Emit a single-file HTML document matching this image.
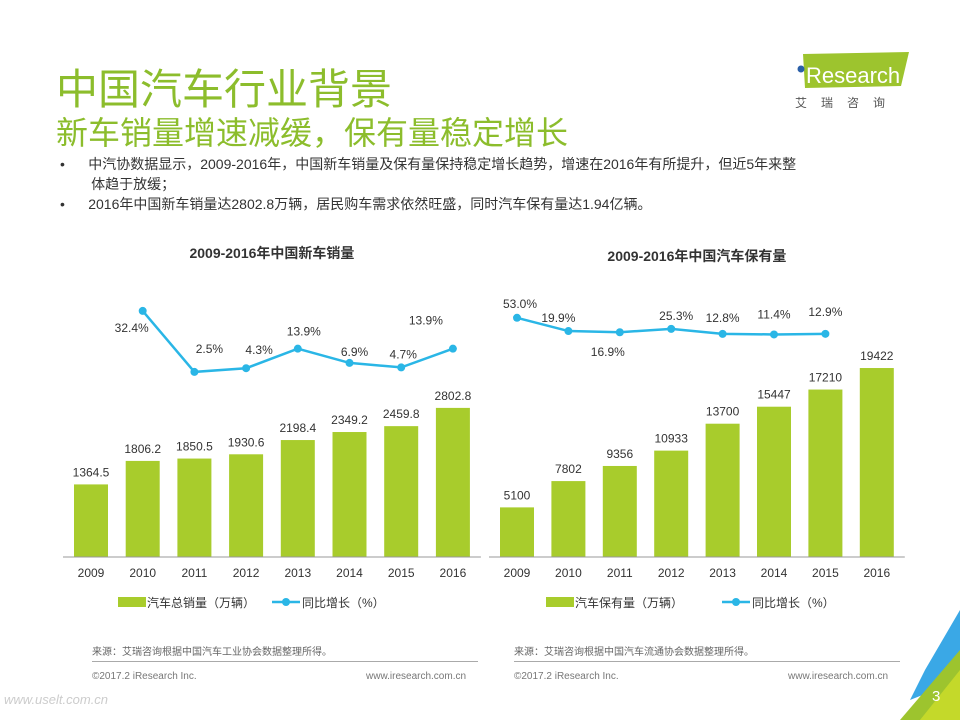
<!DOCTYPE html>
<html><head><meta charset="utf-8">
<style>
body{margin:0;width:960px;height:720px;overflow:hidden;background:#fff;font-family:"Liberation Sans","Noto Sans CJK SC",sans-serif;position:relative}
.abs{position:absolute;white-space:nowrap}
</style></head><body>
<div class="abs" style="left:56px;top:56px;font-size:42px;color:#8cbd2c;letter-spacing:0px">中国汽车行业背景</div>
<div class="abs" style="left:56px;top:108px;font-size:32px;color:#8cbd2c">新车销量增速减缓，保有量稳定增长</div>
<div class="abs" style="left:793px;top:52px;width:120px;height:56px">
<svg width="120" height="56"><polygon points="10,2 116,0 108,34 12,36" fill="#9dc42e"/><circle cx="8" cy="17" r="3.5" fill="#2a5fa8"/><rect x="6" y="22" width="3.5" height="10" fill="#fff"/><text x="13" y="31" font-size="22" fill="#fff" font-family="Liberation Sans">Research</text><text x="2" y="55" font-size="12" fill="#555" letter-spacing="14" font-family="Noto Sans CJK SC">艾瑞咨询</text></svg></div>
<div class="abs" style="left:60px;top:154px;font-size:14px;color:#333;line-height:20px">•&nbsp;&nbsp;&nbsp;&nbsp;&nbsp;&nbsp;中汽协数据显示，2009-2016年，中国新车销量及保有量保持稳定增长趋势，增速在2016年有所提升，但近5年来整<br>&nbsp;&nbsp;&nbsp;&nbsp;&nbsp;&nbsp;&nbsp;&nbsp;体趋于放缓；<br>•&nbsp;&nbsp;&nbsp;&nbsp;&nbsp;&nbsp;2016年中国新车销量达2802.8万辆，居民购车需求依然旺盛，同时汽车保有量达1.94亿辆。</div>
<svg id="chart" width="960" height="720" style="position:absolute;left:0;top:0"></svg>
<div class="abs" style="left:92px;top:643px;font-size:10px;color:#666">来源：艾瑞咨询根据中国汽车工业协会数据整理所得。</div>
<div class="abs" style="left:514px;top:643px;font-size:10px;color:#666">来源：艾瑞咨询根据中国汽车流通协会数据整理所得。</div>
<div class="abs" style="left:92px;top:661px;width:386px;border-top:1px solid #aaa"></div>
<div class="abs" style="left:514px;top:661px;width:386px;border-top:1px solid #aaa"></div>
<div class="abs" style="left:92px;top:671px;font-size:10px;color:#777">©2017.2 iResearch Inc.</div>
<div class="abs" style="left:366px;top:671px;font-size:10px;color:#777">www.iresearch.com.cn</div>
<div class="abs" style="left:514px;top:671px;font-size:10px;color:#777">©2017.2 iResearch Inc.</div>
<div class="abs" style="left:788px;top:671px;font-size:10px;color:#777">www.iresearch.com.cn</div>
<div class="abs" style="left:4px;top:692px;font-size:13px;color:#ccc;font-style:italic">www.uselt.com.cn</div>
<svg class="abs" style="left:880px;top:610px" width="80" height="110"><polygon points="80,0 80,70 30,90 45,60" fill="#3aa8e6"/><polygon points="80,40 80,110 20,110" fill="#9dc42e"/><polygon points="40,110 80,60 80,110" fill="#c4d92a"/></svg>
<div class="abs" style="left:932px;top:688px;font-size:15px;color:#fff">3</div>
<script>
const years=["2009","2010","2011","2012","2013","2014","2015","2016"];
const salesValues=[1364.5,1806.2,1850.5,1930.6,2198.4,2349.2,2459.8,2802.8];
const salesLabels=["1364.5","1806.2","1850.5","1930.6","2198.4","2349.2","2459.8","2802.8"];
const salesGrowth=[null,32.4,2.5,4.3,13.9,6.9,4.7,13.9];
const salesGrowthLabels=["","32.4%","2.5%","4.3%","13.9%","6.9%","4.7%","13.9%"];
const stockValues=[5100,7802,9356,10933,13700,15447,17210,19422];
const stockLabels=["5100","7802","9356","10933","13700","15447","17210","19422"];
const stockGrowth2=[53.0,19.9,16.9,25.3,12.8,11.4,12.9,null];
const stockGrowthLabels=["53.0%","19.9%","16.9%","25.3%","12.8%","11.4%","12.9%",""];
const svg=document.getElementById('chart');const NS='http://www.w3.org/2000/svg';
function mk(t,a){const e=document.createElementNS(NS,t);for(const k in a)e.setAttribute(k,a[k]);svg.appendChild(e);return e;}
function txt(x,y,s,size,anchor,w){const e=mk('text',{x:x,y:y,'font-size':size,'text-anchor':anchor||'middle',fill:'#333','font-weight':w||'normal'});e.textContent=s;return e;}
function chart(o){
  const base=557;
  const xs=i=>o.x0+i*o.step;
  const yb=v=>base-v*o.barScale;
  const yl=v=>o.lineA-v*o.lineB;
  const t=txt((o.x0+xs(7))/2,o.titleY,o.title,14,'middle','bold');
  
  
  o.bars.forEach((v,i)=>{
    const r=mk('rect',{x:xs(i)-17,y:yb(v),width:34,height:v*o.barScale,fill:'#a8cc2c'});
    
    
    const l=txt(xs(i),yb(v)-8,o.barLabels[i],12);
    
    
    const y=txt(xs(i),577,years[i],12);
    
    
  });
  const ax=mk('line',{x1:o.x0-28,x2:xs(7)+28,y1:base,y2:base,stroke:'#999'});
  
  
  let d='';o.line.forEach((v,i)=>{if(v==null)return;d+=(d?'L':'M')+xs(i)+','+yl(v);});
  const p=mk('path',{d:d,fill:'none',stroke:'#2ab6e6','stroke-width':2.5});
  
  
  o.line.forEach((v,i)=>{if(v==null)return;
    const c=mk('circle',{cx:xs(i),cy:yl(v),r:4,fill:'#2ab6e6'});
    
    
    const off=o.lblOff[i];
    const l=txt(xs(i)+off[0],yl(v)+off[1],o.lineLabels[i],12);
    
    
  });
  const lx=o.legX;
  const r=mk('rect',{x:lx,y:597,width:28,height:10,fill:'#a8cc2c'});
  
  
  const l1=txt(lx+29,607,o.leg1,12,'start');
  
  
  const ll=mk('line',{x1:o.legX2,x2:o.legX2+28,y1:602,y2:602,stroke:'#2ab6e6','stroke-width':2.5});
  
  
  mk('circle',{cx:o.legX2+14,cy:602,r:4,fill:'#2ab6e6'});
  const l2=txt(o.legX2+30,607,'同比增长（%）',12,'start');
  
  
}
chart({name:'sales',title:'2009-2016年中国新车销量',titleY:258,x0:91,step:51.7,barScale:0.0532,lineA:377,lineB:2.04,
 bars:salesValues,barLabels:salesLabels,line:salesGrowth,lineLabels:salesGrowthLabels,
 lblOff:[[0,0],[-11,21],[15,-19],[13,-14],[6,-13],[5,-7],[2,-9],[-27,-24]],
 leg1:'汽车总销量（万辆）',legX:118,legX2:272});
chart({name:'stock',title:'2009-2016年中国汽车保有量',titleY:261,x0:517,step:51.4,barScale:0.00973,lineA:339,lineB:0.4,
 bars:stockValues,barLabels:stockLabels,line:stockGrowth2,lineLabels:stockGrowthLabels,
 lblOff:[[3,-10],[-10,-9],[-12,24],[5,-9],[0,-12],[0,-16],[0,-18],[0,0]],
 leg1:'汽车保有量（万辆）',legX:546,legX2:722});
</script>
</body></html>
